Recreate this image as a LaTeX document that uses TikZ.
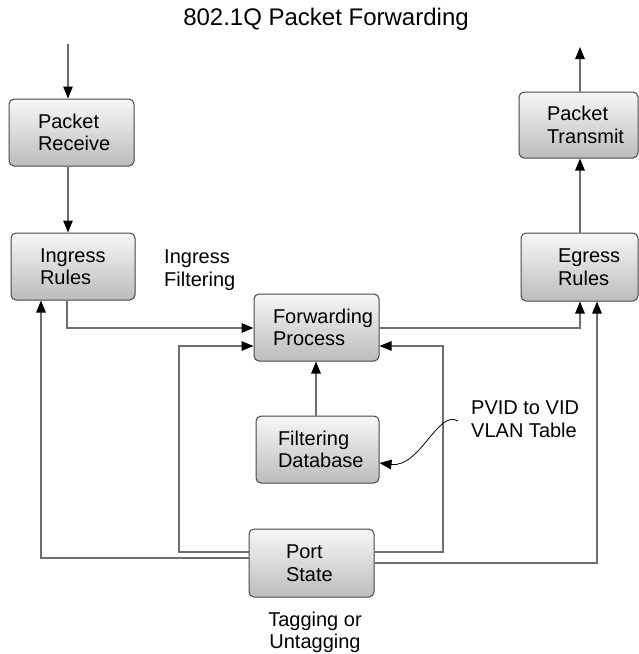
\documentclass[tikz,border=0pt]{standalone}
\usepackage{fontspec}
\setmainfont{Liberation Sans}
\usetikzlibrary{arrows.meta}
\definecolor{wire}{RGB}{110,110,110}
\definecolor{rim}{RGB}{70,70,70}
\definecolor{topfill}{RGB}{247,247,247}
\definecolor{botfill}{RGB}{188,188,188}
\begin{document}
\begin{tikzpicture}[x=1pt,y=-1pt,
  stage/.style={draw=rim, line width=1pt, rounded corners=5pt,
    top color=topfill, bottom color=botfill, align=left,
    font=\fontsize{20}{22.5}\selectfont, inner ysep=0pt},
  conn/.style={draw=wire, line width=1.3pt,
    -{Triangle[length=12pt,width=9.5pt,color=black]}},
  note/.style={font=\fontsize{20}{22.5}\selectfont, align=left, inner sep=0pt}]
\useasboundingbox (0,0) rectangle (639,654);

% title
\node[font=\fontsize{24}{28}\selectfont, inner sep=0pt] (title) at (326,19.5) {802.1Q Packet Forwarding};

% processing stages
\node[stage, minimum width=125pt, minimum height=67pt, inner xsep=29pt, text width=67pt]
  (rcv) at (71.5,132.5) {Packet\\Receive};
\node[stage, minimum width=124pt, minimum height=67pt, inner xsep=29pt, text width=66pt]
  (ing) at (73,266.5) {Ingress\\Rules};
\node[stage, minimum width=125pt, minimum height=67pt, inner xsep=19pt, text width=87pt]
  (fwd) at (316.5,327.5) {Forwarding\\Process};
\node[stage, minimum width=123pt, minimum height=67pt, inner xsep=22pt, text width=79pt]
  (fdb) at (317.5,449.5) {Filtering\\Database};
\node[stage, minimum width=125pt, minimum height=68pt, inner xsep=37pt, text width=51pt]
  (port) at (311.5,563) {Port\\State};
\node[stage, minimum width=119pt, minimum height=66pt, inner xsep=28pt, text width=63pt]
  (xmt) at (578.5,125) {Packet\\Transmit};
\node[stage, minimum width=117pt, minimum height=68pt, inner xsep=37pt, text width=43pt]
  (egr) at (579.5,267) {Egress\\Rules};

% free labels
\node[note, anchor=west] (ingf) at (164,270) {Ingress\\Filtering};
\node[note, anchor=west] (pvid) at (471,419) {PVID to VID\\VLAN Table};
\node[note, align=center] (tag) at (315,632.5) {Tagging or\\Untagging};

% routing columns and rows
\coordinate (cA) at (68,0);
\coordinate (cB) at (41,0);
\coordinate (cC) at (179,0);
\coordinate (cD) at (316,0);
\coordinate (cE) at (443,0);
\coordinate (cF) at (580,0);
\coordinate (cG) at (597,0);
\coordinate (rFw) at (0,328);
\coordinate (rLp) at (0,346);
\coordinate (rPs) at (0,552);
\coordinate (rL) at (0,558);
\coordinate (rR) at (0,563);
\coordinate (rDb) at (0,463);
\coordinate (inlet) at (68,44);
\coordinate (outlet) at (580,47);
\coordinate (pv) at (458,421);

% receive path
\draw[conn] (inlet) -- (cA |- rcv.north);
\draw[conn] (cA |- rcv.south) -- (cA |- ing.north);
\draw[conn] ([xshift=-6pt]ing.south) |- (fwd.west |- rFw);

% transmit path
\draw[conn] (fwd.east |- rFw) -| (cF |- egr.south);
\draw[conn] (cF |- egr.north) -- (cF |- xmt.south);
\draw[conn] (cF |- xmt.north) -- (outlet);

% database lookup
\draw[conn] (cD |- fdb.north) -- (cD |- fwd.south);

% port state feedback
\draw[conn] (port.west |- rPs) -| (cC |- rLp) -- (fwd.west |- rLp);
\draw[conn] (port.east |- rPs) -| (cE |- rLp) -- (fwd.east |- rLp);
\draw[conn] (port.west |- rL) -| (cB |- ing.south);
\draw[conn] (port.east |- rR) -| (cG |- egr.south);

% table callout
\draw[draw=black, line width=0.8pt, -{Triangle[length=12pt,width=9.5pt]}]
  (pv) .. controls (438,409) and (420,468) .. (fdb.east |- rDb);
\end{tikzpicture}
\end{document}
